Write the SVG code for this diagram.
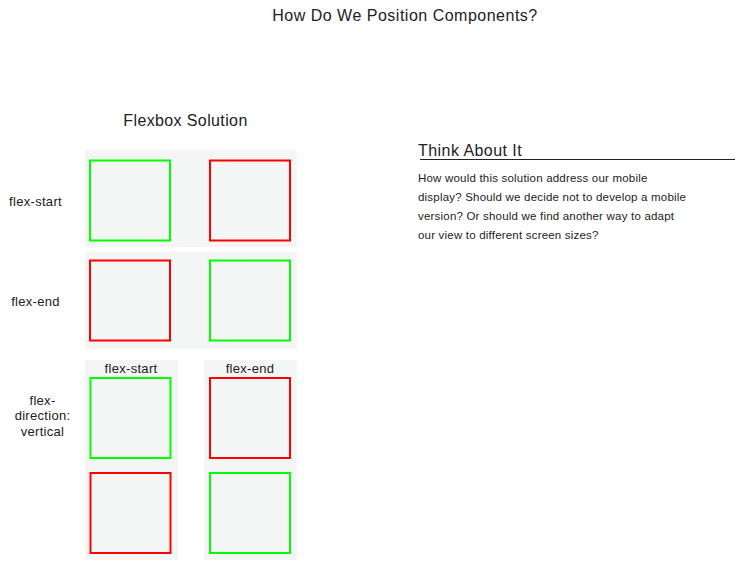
<svg xmlns="http://www.w3.org/2000/svg" width="736" height="561" viewBox="0 0 736 561">
<style>
text{font-family:"Liberation Sans",Arial,sans-serif;fill:#222}
.panel{fill:#f4f6f5;stroke:none}
.g{fill:#f4f6f5;stroke:#00ff00;stroke-width:2}
.r{fill:#f4f6f5;stroke:#ff0000;stroke-width:2}
.lbl{font-size:13px;text-anchor:middle;letter-spacing:0.3px}
.big{font-size:16px;letter-spacing:0.5px}
.body{font-size:11.5px;letter-spacing:0.2px}
</style>
<rect width="736" height="561" fill="#fff"/>
<g id="title"><text class="big" x="405" y="21" text-anchor="middle">How Do We Position Components?</text></g>
<g id="flexbox-title"><text class="big" x="185.5" y="126" text-anchor="middle" style="letter-spacing:0.38px">Flexbox Solution</text></g>
<g id="label-flex-start"><text class="lbl" x="35.5" y="206">flex-start</text></g>
<g id="label-flex-end"><text class="lbl" x="35.5" y="306">flex-end</text></g>
<g id="label-direction"><text class="lbl" x="42.5" y="404.5">flex-</text><text class="lbl" x="42.5" y="420">direction:</text><text class="lbl" x="42.5" y="435.5">vertical</text></g>
<g id="row-start">
<rect class="panel" x="85" y="150" width="212" height="97"/>
<rect class="g" x="90" y="160.5" width="80" height="80"/>
<rect class="r" x="210" y="160.5" width="80" height="80"/>
</g>
<g id="row-end">
<rect class="panel" x="85" y="252" width="212" height="97"/>
<rect class="r" x="90" y="260.5" width="80" height="80"/>
<rect class="g" x="210" y="260.5" width="80" height="80"/>
</g>
<g id="col-start">
<rect class="panel" x="85" y="360" width="93" height="200"/>
<text class="lbl" x="131" y="372.5">flex-start</text>
<rect class="g" x="90.5" y="378" width="80" height="80"/>
<rect class="r" x="90.5" y="473" width="80" height="80"/>
</g>
<g id="col-end">
<rect class="panel" x="204" y="360" width="93" height="200"/>
<text class="lbl" x="250" y="372.5">flex-end</text>
<rect class="r" x="210" y="378" width="80" height="80"/>
<rect class="g" x="210" y="473" width="80" height="80"/>
</g>
<g id="think">
<text class="big" x="418" y="156" style="letter-spacing:0.45px">Think About It</text>
<line x1="420" y1="159.5" x2="735" y2="159.5" stroke="#222" stroke-width="1"/>
<text class="body" x="418" y="181.5">How would this solution address our mobile</text>
<text class="body" x="418" y="200.5">display? Should we decide not to develop a mobile</text>
<text class="body" x="418" y="220">version? Or should we find another way to adapt</text>
<text class="body" x="418" y="239">our view to different screen sizes?</text>
</g>
<g id="connectors"></g>
</svg>
